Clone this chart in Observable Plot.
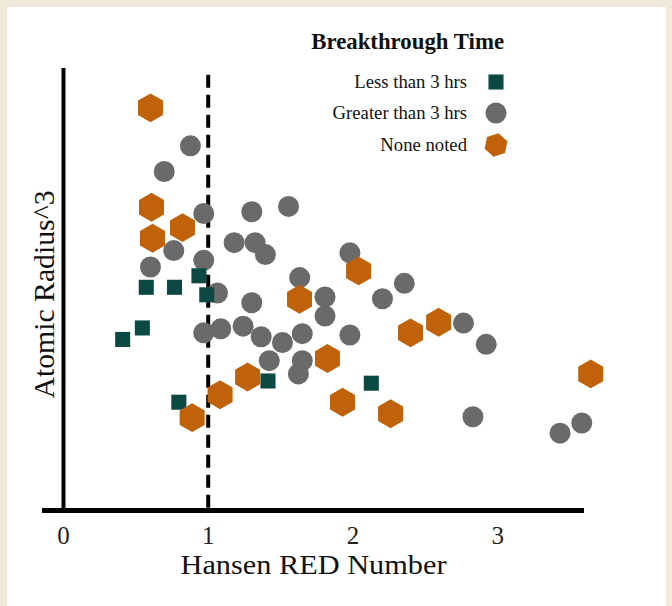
<!DOCTYPE html>
<html>
<head>
<meta charset="utf-8">
<script src="https://cdn.jsdelivr.net/npm/d3@7"></script>
<script src="https://cdn.jsdelivr.net/npm/@observablehq/plot@0.6"></script>
<style>
  html, body { margin: 0; padding: 0; background: #f1e9d9; width: 672px; height: 606px; overflow: hidden; }
  #panel { position: absolute; left: 7px; top: 7px; width: 659px; height: 599px; background: #ffffff; }
  #chart { position: absolute; left: 0; top: 0; }
  .lg { position: absolute; font-family: "Liberation Serif", "DejaVu Serif", serif; color: #111; white-space: nowrap; }
  .lgtitle { font-weight: bold; font-size: 22.8px; line-height: 26px; }
  .lgitem { font-size: 18.7px; line-height: 20px; text-align: right; }
  svg.icon { position: absolute; overflow: visible; }
</style>
</head>
<body>
<div id="panel"></div>
<div id="chart"></div>
<div id="legend"></div>
<script>
// ---- data (Hansen RED number vs. atomic radius^3, y in relative units 0-100) ----
const categories = ["Less than 3 hrs", "Greater than 3 hrs", "None noted"];
const colors = ["#0c4844", "#6a6a6a", "#c0620a"];

const lessX = [0.936, 0.572, 0.767, 0.990, 0.545, 0.409, 1.413, 2.127, 0.797];
const lessY = [53.1, 50.5, 50.5, 48.8, 41.3, 38.7, 29.3, 28.8, 24.5];

const greaterX = [0.877, 0.696, 0.969, 1.301, 1.555, 1.179, 1.324, 1.395, 0.762, 0.969,
                  0.601, 1.979, 1.632, 1.064, 1.807, 1.301, 2.204, 2.355, 1.807, 2.764,
                  0.969, 1.087, 1.241, 1.366, 1.513, 1.650, 1.979, 2.921, 1.422, 1.650,
                  1.623, 2.829, 3.431, 3.581];
const greaterY = [82.5, 76.7, 67.2, 67.6, 68.8, 60.6, 60.6, 57.9, 58.8, 56.6,
                  55.1, 58.3, 52.7, 49.2, 48.3, 47.0, 47.9, 51.4, 44.0, 42.4,
                  40.2, 41.1, 41.7, 39.3, 38.0, 40.0, 39.7, 37.6, 33.9, 33.9,
                  30.9, 21.2, 17.5, 19.8];

const noneX = [0.601, 0.608, 0.822, 0.615, 2.039, 1.631, 2.592, 2.398, 1.824, 1.272,
               1.082, 1.928, 2.260, 0.889, 3.643];
const noneY = [91.1, 68.6, 64.0, 61.6, 54.2, 47.8, 42.6, 40.2, 34.4, 30.2,
               26.2, 24.5, 21.9, 21.0, 30.9];

const xTicks = [0, 1, 2, 3];
const thresholdRED = 1;
const xLabel = "Hansen RED Number";
const yLabel = "Atomic Radius^3";
const legendTitle = "Breakthrough Time";

// ---- build tables ----
const toRows = (xs, ys, cat) => xs.map((x, i) => ({x, y: ys[i], cat}));
const less = toRows(lessX, lessY, categories[0]);
const greater = toRows(greaterX, greaterY, categories[1]);
const none = toRows(noneX, noneY, categories[2]);

const chart = Plot.plot({
  width: 672,
  height: 606,
  marginLeft: 42,
  marginRight: 88,
  marginTop: 68,
  marginBottom: 96,
  style: {background: "transparent", fontFamily: "Liberation Serif, DejaVu Serif, serif", color: "#111"},
  x: {domain: [-0.145, 3.6], axis: null},
  y: {domain: [0, 100], axis: null},
  marks: [
    Plot.ruleX([thresholdRED], {y1: 98.5, y2: 0, stroke: "#000", strokeWidth: 4, strokeDasharray: "13,7"}),
    Plot.dot(greater, {x: "x", y: "y", r: 10.5, symbol: "circle", fill: colors[1]}),
    Plot.dot(less, {x: "x", y: "y", r: 8.5, symbol: "square", fill: colors[0]}),
    Plot.dot(none, {x: "x", y: "y", r: 12.5, symbol: "hexagon", fill: colors[2]}),
    Plot.ruleX([0], {y1: 0, y2: 100, stroke: "#000", strokeWidth: 4}),
    Plot.ruleY([0], {stroke: "#000", strokeWidth: 5}),
    Plot.axisX({ticks: xTicks, tickSize: 0, tickPadding: 16, fontSize: 25, tickFormat: d => String(d), label: null, color: "#222"}),
    Plot.text([xLabel], {frameAnchor: "bottom", dy: 63, fontSize: 26.5, fill: "#111"}),
    Plot.text([yLabel], {frameAnchor: "left", textAnchor: "middle", dx: 2, dy: 5, rotate: -90, fontSize: 29, fill: "#111"})
  ]
});
document.getElementById("chart").appendChild(chart);
// the reference's axis titles are set with slightly different proportions than the default glyphs
d3.select(chart).selectAll("text").filter(function() { return this.textContent === xLabel; })
  .attr("textLength", 266).attr("lengthAdjust", "spacingAndGlyphs");
d3.select(chart).selectAll("text").filter(function() { return this.textContent === yLabel; })
  .attr("textLength", 208).attr("lengthAdjust", "spacingAndGlyphs");

// ---- legend ----
const legend = document.getElementById("legend");
const t = document.createElement("div");
t.className = "lg lgtitle";
t.textContent = legendTitle;
t.style.right = (672 - 504) + "px";
t.style.top = "29px";
legend.appendChild(t);

const rowCenters = [81.7, 112.7, 145];
categories.forEach((c, i) => {
  const d = document.createElement("div");
  d.className = "lg lgitem";
  d.textContent = c;
  d.style.right = (672 - 467) + "px";
  d.style.top = (rowCenters[i] - 10) + "px";
  legend.appendChild(d);
  const s = d3.create("svg").attr("class", "icon").attr("width", 30).attr("height", 30)
    .style("left", (496 - 15) + "px").style("top", (rowCenters[i] - 15) + "px");
  const r = [8.5, 10.5, 12][i];
  if (i === 2) {
    const pts = d3.range(6).map(k => {
      const a = Math.PI / 3 * k + 0.2;
      return [15 + r * Math.sin(a), 15 - r * Math.cos(a)];
    });
    s.append("path").attr("d", "M" + pts.join("L") + "Z").attr("fill", colors[i]);
  } else {
    const sym = i === 0 ? d3.symbolSquare : d3.symbolCircle;
    s.append("path").attr("transform", "translate(15,15)")
      .attr("d", d3.symbol(sym, Math.PI * r * r)()).attr("fill", colors[i]);
  }
  legend.appendChild(s.node());
});
</script>
</body>
</html>
